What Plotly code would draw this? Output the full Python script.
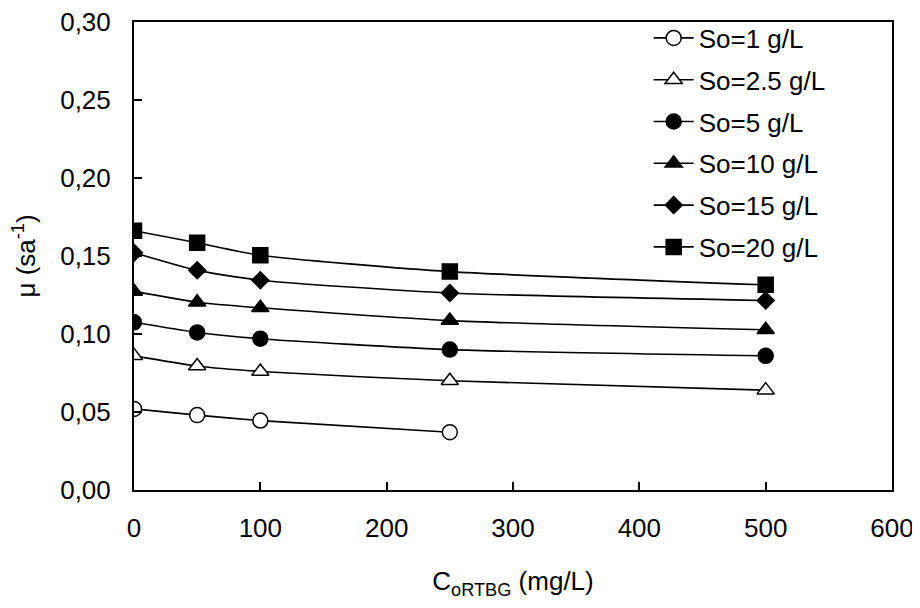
import plotly.graph_objects as go

x_vals = [0, 50, 100, 250, 500]
x_so1 = [0, 50, 100, 250]

so1 = [0.052, 0.048, 0.0445, 0.037]
so25 = [0.086, 0.0795, 0.076, 0.070, 0.064]
so5 = [0.1075, 0.101, 0.097, 0.090, 0.086]
so10 = [0.1273, 0.1204, 0.1168, 0.1086, 0.1027]
so15 = [0.1521, 0.1408, 0.1345, 0.1263, 0.1215]
so20 = [0.1662, 0.1585, 0.1505, 0.140, 0.1315]

names = ["So=1 g/L", "So=2.5 g/L", "So=5 g/L", "So=10 g/L", "So=15 g/L", "So=20 g/L"]
series = [(x_so1, so1), (x_vals, so25), (x_vals, so5), (x_vals, so10), (x_vals, so15), (x_vals, so20)]
symbols = ["circle", "triangle-up", "circle", "triangle-up", "diamond", "square"]
fills = ["white", "white", "black", "black", "black", "black"]
sizes = [15, 15, 15, 15, 13, 15]

FONT = "Liberation Sans, Arial, sans-serif"

fig = go.Figure()
for i, ((xs, ys), nm) in enumerate(zip(series, names)):
    fig.add_trace(go.Scatter(
        x=xs, y=ys, name=nm, mode="lines+markers",
        legendgroup=f"g{i}",
        line=dict(color="black", width=1.6, shape="spline", smoothing=0.6),
        marker=dict(symbol=symbols[i], size=sizes[i], color=fills[i],
                    line=dict(color="black", width=1.5)),
    ))

# page body has an 8px default margin, so the figure is offset by 8px
fig.update_layout(
    width=912, height=592,
    margin=dict(l=126, r=28, t=7, b=110),
    paper_bgcolor="white", plot_bgcolor="white",
    separators=", ",
    font=dict(family=FONT, size=26, color="black"),
    showlegend=True,
    legend=dict(x=0.679, y=1.016, xanchor="left", yanchor="top",
                bgcolor="rgba(0,0,0,0)", font=dict(size=26),
                tracegroupgap=5, itemwidth=40),
)
fig.update_xaxes(
    range=[0, 600], tickvals=[0, 100, 200, 300, 400, 500, 600],
    showgrid=False, zeroline=False, automargin=False,
    ticklabeloverflow="allow",
    showline=True, linecolor="black", linewidth=2, mirror=True,
    ticks="inside", ticklen=8, tickwidth=1.5, tickcolor="black",
    tickfont=dict(size=26), ticklabelstandoff=14,
    title=dict(text="C<sub>oRTBG</sub> (mg/L)", font=dict(size=26), standoff=30),
)
fig.update_yaxes(
    range=[0, 0.30], tickvals=[0, 0.05, 0.10, 0.15, 0.20, 0.25, 0.30],
    tickformat=".2f",
    showgrid=False, zeroline=False, automargin=False,
    ticklabeloverflow="allow",
    showline=True, linecolor="black", linewidth=2, mirror=True,
    ticks="inside", ticklen=8, tickwidth=1.5, tickcolor="black",
    tickfont=dict(size=26), ticklabelstandoff=16,
    title=dict(text="μ (sa<sup>-1</sup>)", font=dict(size=26), standoff=30),
)

fig.write_html("out.html")
